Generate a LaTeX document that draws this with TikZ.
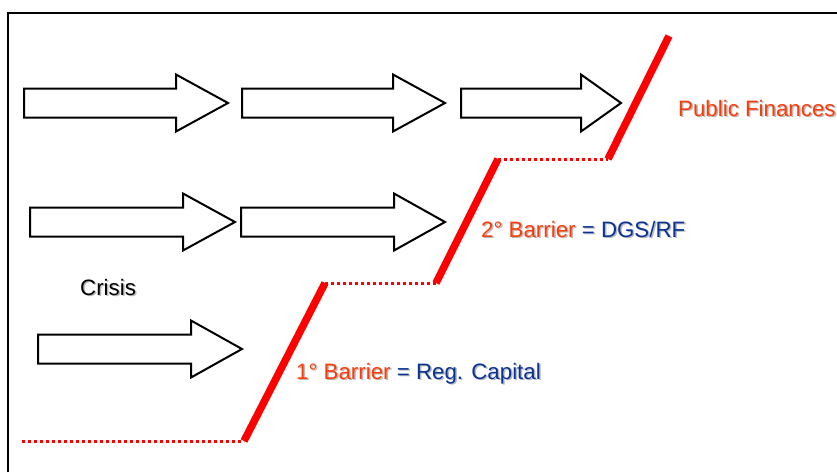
\documentclass[tikz,border=0pt]{standalone}
\usepackage{fontspec}
\setmainfont{Liberation Sans}
\definecolor{txtred}{RGB}{250,60,10}
\definecolor{txtblue}{RGB}{10,50,150}
\definecolor{shad}{RGB}{185,185,185}
\newcommand{\shtext}[1]{\makebox[0pt][l]{\hspace{1.5pt}\raisebox{-1.5pt}{\color{shad}#1}}#1}
\begin{document}
\begin{tikzpicture}[x=1pt,y=-1pt,
  bigarrow/.style={draw=black,fill=white,line width=2pt,line join=miter},
  stairdot/.style={draw=red,line width=3pt,dash pattern=on 3pt off 3pt},
  stairbar/.style={draw=red,line width=7.5pt},
  lbl/.style={anchor=base west,inner sep=0pt,font=\fontsize{22.3}{25}\selectfont}]
\useasboundingbox (0,0) rectangle (837,472);
% frame
\draw[line width=2pt] (8,472) -- (8,13) -- (837,13);
% arrows: tail, head base, tip, centre y
\newcommand{\bigarr}[5]{%
  \draw[bigarrow] (#1,#4-14.5) -- (#2,#4-14.5) -- (#2,#4-28.5) -- (#3,#4) -- (#2,#4+28.5) -- (#2,#4+14.5) -- (#1,#4+14.5) -- cycle;
  \coordinate (#5) at (#3,#4);}
\bigarr{24}{176}{228}{103}{a1}
\bigarr{242}{393}{445}{103}{a2}
\bigarr{461}{581}{621}{103}{a3}
\bigarr{30}{183}{235}{222}{b1}
\bigarr{241}{394}{445}{222}{b2}
\bigarr{38}{191}{242}{349}{c1}
% staircase
\coordinate (p0) at (22,441);
\coordinate (p1) at (244,441);
\coordinate (p2) at (325,283);
\coordinate (p3) at (436,283);
\coordinate (p4) at (498,159);
\coordinate (p5) at (608,159);
\coordinate (p6) at (669,36);
\draw[stairdot] (p0) -- (p1);
\draw[stairdot] (p2) -- (p3);
\draw[stairdot] (p4) -- (p5);
\draw[stairbar] (p1) -- (p2);
\draw[stairbar] (p3) -- (p4);
\draw[stairbar] (p5) -- (p6);
% labels
\node[lbl] (crisis) at (80,295) {\shtext{Crisis}};
\node[lbl] (pubfin) at (678,116) {\color{txtred}\shtext{Public Finances}};
\node[lbl] (bar2) at (481,237) {\color{txtred}\shtext{2° Barrier} \color{txtblue}\shtext{= DGS/RF}};
\node[lbl] (bar1) at (296,379) {\color{txtred}\shtext{1° Barrier} \color{txtblue}\shtext{= Reg. Capital}};
\end{tikzpicture}
\end{document}
